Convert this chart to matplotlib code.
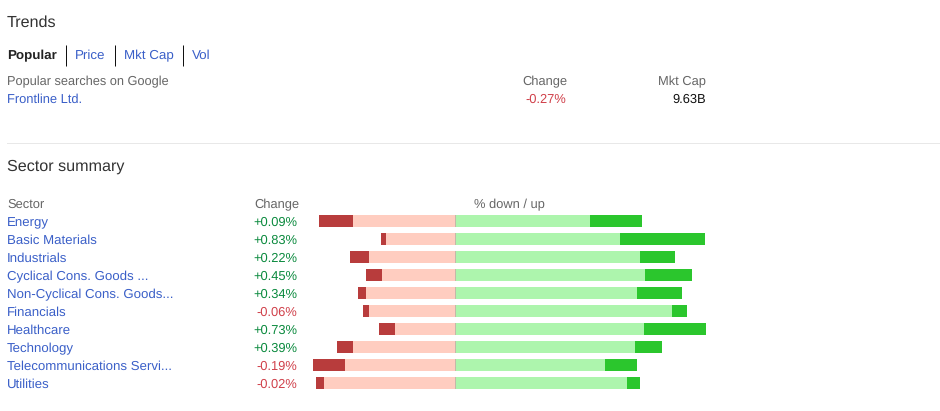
import matplotlib
matplotlib.use("Agg")
import matplotlib.pyplot as plt

plt.rcParams['font.family'] = ['Liberation Sans', 'DejaVu Sans']
plt.rcParams['text.hinting'] = 'no_hinting'
plt.rcParams['text.hinting_factor'] = 8

sectors = ["Energy", "Basic Materials", "Industrials", "Cyclical Cons. Goods ...",
           "Non-Cyclical Cons. Goods...", "Financials", "Healthcare", "Technology",
           "Telecommunications Servi...", "Utilities"]
changes = ["+0.09%", "+0.83%", "+0.22%", "+0.45%", "+0.34%", "-0.06%", "+0.73%",
           "+0.39%", "-0.19%", "-0.02%"]
# bar segment lengths (percent-like units, 2 px = 1 unit)
down_light = [51, 34.5, 43, 36.5, 44.5, 43, 30, 51, 55, 65.5]
down_dark = [17, 2.5, 9.5, 8, 4, 3, 8, 8, 16, 4]
up_light = [67.5, 82.5, 92.5, 95, 91, 108.5, 94.5, 90, 75, 86]
up_dark = [26, 42.5, 17.5, 23.5, 22.5, 7.5, 31, 13.5, 16, 6.5]

tabs = ["Popular", "Price", "Mkt Cap", "Vol"]
tab_x = [7, 75, 124, 192]
tab_sep_x = [65.5, 114.5, 182.5]

W, H = 940, 411
fig = plt.figure(figsize=(W / 100, H / 100), dpi=100, facecolor="white")
page = fig.add_axes([0, 0, 1, 1])
page.set_xlim(0, W)
page.set_ylim(H, 0)
page.axis("off")

LINK = "#3a5fc8"
GRAY = "#666666"
DARK = "#222222"
GREEN = "#0b8a3e"
RED = "#d0404a"
FS = 9.25
PX = 0.72

def t(x, y, s, color=GRAY, size=FS, ha="left", weight="normal"):
    page.text(x, y + 1.5, s, color=color, fontsize=size, ha=ha, va="center", weight=weight)

t(7, 21, "Trends", "#333333", 11.6)
for i, (label, x) in enumerate(zip(tabs, tab_x)):
    t(x, 54.5, label, DARK if i == 0 else LINK, 9.6, weight="bold" if i == 0 else "normal")
for x in tab_sep_x:
    page.plot([x, x], [45, 66], color="#111111", lw=PX, solid_capstyle="butt")

t(7, 80.5, "Popular searches on Google", size=9.2)
t(7, 98.5, "Frontline Ltd.", LINK)
t(567, 80.5, "Change", ha="right")
t(706, 80.5, "Mkt Cap", ha="right")
t(566, 98.5, "-0.27%", RED, ha="right")
t(706, 98.5, "9.63B", "#111111", ha="right")

page.plot([7, 940], [143.5, 143.5], color="#e8e8e8", lw=PX)
t(7, 165.5, "Sector summary", "#333333", 11.6)

t(7, 203.5, "Sector")
t(299, 203.5, "Change", ha="right")
t(474, 203.5, "% down / up")

row_y = [221 + 18 * i for i in range(len(sectors))]
for y, s, c in zip(row_y, sectors, changes):
    t(7, y + 0.5, s, LINK, 9.55)
    t(297, y + 0.5, c, RED if c.startswith("-") else GREEN, ha="right")

# Bar axes: 2 px per unit, zero at x = 455
ax = fig.add_axes([0, 0, 1, 1], facecolor="none")
ax.set_xlim(-455 / 2, (W - 455) / 2)
ax.set_ylim(H, 0)
ax.axis("off")
h = 12
ax.barh(row_y, [-v for v in down_light], height=h, color="#ffcdc0", lw=0)
ax.barh(row_y, [-v for v in down_dark], left=[-v for v in down_light], height=h, color="#b83c3c", lw=0)
ax.barh(row_y, up_light, height=h, color="#adf5ad", lw=0)
ax.barh(row_y, up_dark, left=up_light, height=h, color="#2bc62d", lw=0)
ax.barh(row_y, [0.5] * len(row_y), height=h, color="#c4b8a8", lw=0)

fig.savefig("out.png", dpi=100, facecolor="white")
